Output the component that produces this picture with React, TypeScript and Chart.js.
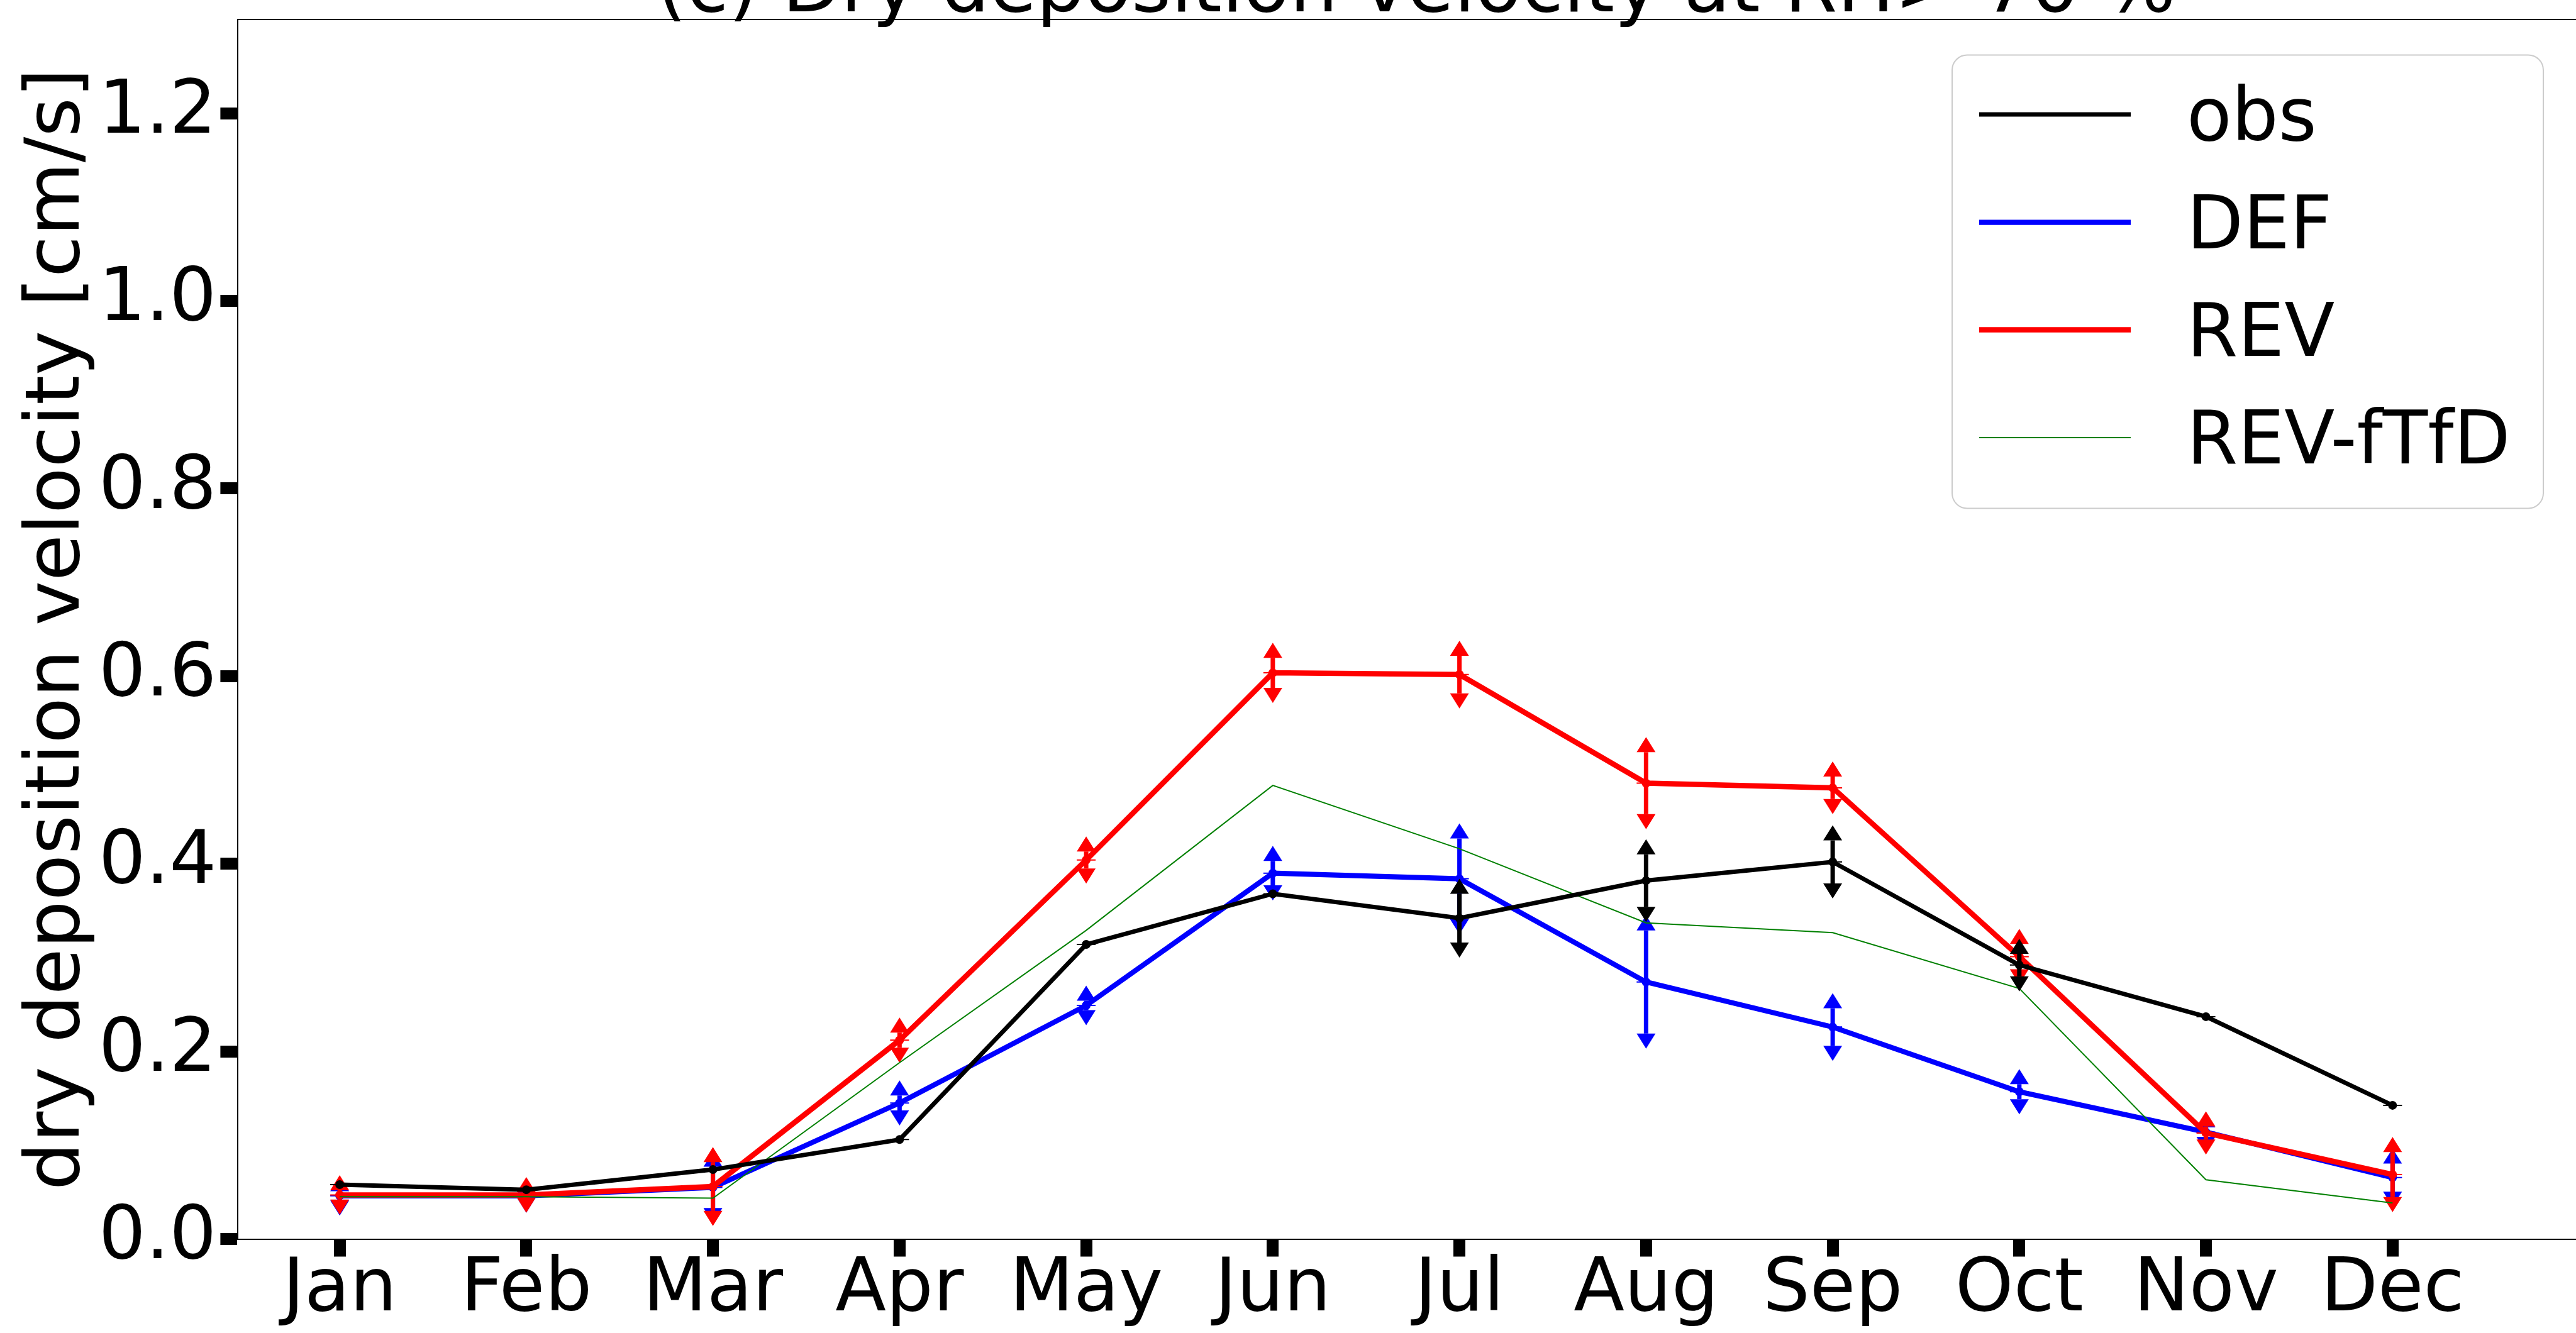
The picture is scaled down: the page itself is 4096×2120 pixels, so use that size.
import React, { useEffect, useRef } from "react";
import { Chart, registerables } from "chart.js";

Chart.register(...registerables);

// ---------------- data ----------------
const months = ["Jan", "Feb", "Mar", "Apr", "May", "Jun", "Jul", "Aug", "Sep", "Oct", "Nov", "Dec"];
const monthNumbers = [1, 2, 3, 4, 5, 6, 7, 8, 9, 10, 11, 12];

const obsValues = [0.058, 0.0525, 0.074, 0.106, 0.314, 0.368, 0.342, 0.382, 0.402, 0.292, 0.237, 0.1425];
const obsErrors = [null, null, null, null, null, null, 0.026, 0.028, 0.023, 0.012, null, null];

const defValues = [0.046, 0.046, 0.055, 0.145, 0.249, 0.39, 0.384, 0.274, 0.226, 0.157, 0.114, 0.0655];
const defErrors = [0.005, 0.002, 0.022, 0.008, 0.005, 0.013, 0.043, 0.055, 0.02, 0.008, 0.005, 0.015];

const revValues = [0.047, 0.047, 0.056, 0.212, 0.404, 0.6035, 0.6017, 0.486, 0.481, 0.301, 0.113, 0.0687];
const revErrors = [0.005, 0.003, 0.026, 0.008, 0.009, 0.016, 0.02, 0.033, 0.012, 0.0135, 0.007, 0.024];

const revfTfDValues = [0.045, 0.045, 0.0436, 0.188, 0.329, 0.4835, 0.416, 0.337, 0.3266, 0.267, 0.0632, 0.0383];

const yTickValues = [0, 0.2, 0.4, 0.6, 0.8, 1.0, 1.2];
const yMin = 0;
const yMax = 1.3;
const xMin = 0.455;
const xMax = 13.084;

const titleText = "(c) Dry deposition velocity at RH> 70 %";
const yLabelText = "dry deposition velocity [cm/s]";

// ---------------- layout / style ----------------
const W = 4140;
const H = 2120;
const PLOT_LEFT = 378.4;
const PLOT_TOP = 31;
const PLOT_BOTTOM = 1970.5;
const PLOT_RIGHT = 4126;
const FONT_FAMILY = '"DejaVu Sans"';
const TITLE_SIZE = 121;
const YLABEL_SIZE = 120;
const TICK_SIZE = 118;
const LEGEND_SIZE = 117;

const CARET_W = 30;
const CARET_H = 24;
const BAR_W = 7;
const CAP_LW = 2;

const pts = (vals: number[]) => vals.map((v, i) => ({ x: monthNumbers[i], y: v }));

const errorBarPlugin = {
  id: "errorBars",
  afterDatasetDraw(chart: any, args: any) {
    const ds = chart.data.datasets[args.index];
    if (!ds.showCaps) return;
    const errs = ds.errors as (number | null)[];
    const xs = chart.scales.x;
    const ys = chart.scales.y;
    const ctx = chart.ctx as CanvasRenderingContext2D;
    const a = chart.chartArea;
    ctx.save();
    ctx.beginPath();
    ctx.rect(a.left, a.top, a.right - a.left, a.bottom - a.top);
    ctx.clip();
    ctx.strokeStyle = ds.borderColor;
    ctx.fillStyle = ds.borderColor;
    ds.data.forEach((p: any, i: number) => {
      const px = xs.getPixelForValue(p.x);
      const py = ys.getPixelForValue(p.y);
      const e = errs ? errs[i] : null;
      if (e != null) {
        const top = ys.getPixelForValue(p.y + e);
        const bot = ys.getPixelForValue(p.y - e);
        ctx.lineWidth = BAR_W;
        ctx.lineCap = "butt";
        ctx.beginPath();
        ctx.moveTo(px, top);
        ctx.lineTo(px, bot);
        ctx.stroke();
        ctx.beginPath();
        ctx.moveTo(px - CARET_W / 2, top);
        ctx.lineTo(px + CARET_W / 2, top);
        ctx.lineTo(px, top - CARET_H);
        ctx.closePath();
        ctx.fill();
        ctx.beginPath();
        ctx.moveTo(px - CARET_W / 2, bot);
        ctx.lineTo(px + CARET_W / 2, bot);
        ctx.lineTo(px, bot + CARET_H);
        ctx.closePath();
        ctx.fill();
      }
      ctx.lineWidth = CAP_LW;
      ctx.beginPath();
      ctx.moveTo(px - CARET_W / 2, py);
      ctx.lineTo(px + CARET_W / 2, py);
      ctx.stroke();
    });
    ctx.restore();
  },
};

const framePlugin = {
  id: "frameAndTexts",
  afterDraw(chart: any) {
    const ctx = chart.ctx as CanvasRenderingContext2D;
    const a = chart.chartArea;
    ctx.save();
    // top spine
    ctx.strokeStyle = "#000";
    ctx.lineWidth = 2;
    ctx.beginPath();
    ctx.moveTo(a.left, a.top);
    ctx.lineTo(a.right, a.top);
    ctx.stroke();
    // title
    ctx.fillStyle = "#000";
    ctx.font = `${TITLE_SIZE}px ${FONT_FAMILY}`;
    ctx.textAlign = "center";
    ctx.textBaseline = "alphabetic";
    ctx.fillText(titleText, 2252, 18.4);
    // y label
    ctx.font = `${YLABEL_SIZE}px ${FONT_FAMILY}`;
    ctx.save();
    ctx.translate(125, (a.top + a.bottom) / 2);
    ctx.rotate(-Math.PI / 2);
    ctx.fillText(yLabelText, 0, 0);
    ctx.restore();
    ctx.restore();
  },
};

const legendPlugin = {
  id: "boxLegend",
  afterDraw(chart: any) {
    const ctx = chart.ctx as CanvasRenderingContext2D;
    const bx = 3104;
    const by = 87.5;
    const bw = 940;
    const bh = 721;
    const r = 24;
    ctx.save();
    ctx.beginPath();
    ctx.moveTo(bx + r, by);
    ctx.lineTo(bx + bw - r, by);
    ctx.arcTo(bx + bw, by, bx + bw, by + r, r);
    ctx.lineTo(bx + bw, by + bh - r);
    ctx.arcTo(bx + bw, by + bh, bx + bw - r, by + bh, r);
    ctx.lineTo(bx + r, by + bh);
    ctx.arcTo(bx, by + bh, bx, by + bh - r, r);
    ctx.lineTo(bx, by + r);
    ctx.arcTo(bx, by, bx + r, by, r);
    ctx.closePath();
    ctx.fillStyle = "rgba(255,255,255,0.8)";
    ctx.fill();
    ctx.strokeStyle = "#cccccc";
    ctx.lineWidth = 2;
    ctx.stroke();
    const rowY = [182.1, 353.7, 524.6, 696.1];
    chart.data.datasets.forEach((ds: any, i: number) => {
      const y = rowY[i];
      ctx.strokeStyle = ds.borderColor;
      ctx.lineWidth = ds.borderWidth;
      ctx.lineCap = "butt";
      ctx.beginPath();
      ctx.moveTo(3147, y);
      ctx.lineTo(3388, y);
      ctx.stroke();
      ctx.fillStyle = "#000";
      ctx.font = `${LEGEND_SIZE}px ${FONT_FAMILY}`;
      ctx.textAlign = "left";
      ctx.textBaseline = "alphabetic";
      ctx.fillText(ds.label, 3477, y + 41);
    });
    ctx.restore();
  },
};

const tickFont = { family: "DejaVu Sans", size: TICK_SIZE, lineHeight: 1 };
const gridOpts = {
  drawOnChartArea: false,
  drawTicks: true,
  tickLength: 28,
  tickWidth: 19,
  tickColor: "#000",
  color: "#000",
};
const borderOpts = { display: true, color: "#000", width: 2 };

export default function App() {
  const ref = useRef<HTMLCanvasElement>(null);
  useEffect(() => {
    document.body.style.margin = "0";
    const config: any = {
      type: "line",
      data: {
        datasets: [
          {
            label: "obs",
            data: pts(obsValues),
            errors: obsErrors,
            showCaps: true,
            borderColor: "#000000",
            backgroundColor: "#000000",
            pointBackgroundColor: "#000000",
            borderWidth: 7,
            pointRadius: 7,
            pointBorderWidth: 0,
            order: 0,
          },
          {
            label: "DEF",
            data: pts(defValues),
            errors: defErrors,
            showCaps: true,
            borderColor: "#0000ff",
            backgroundColor: "#0000ff",
            pointBackgroundColor: "#0000ff",
            borderWidth: 8.2,
            pointRadius: 7,
            pointBorderWidth: 0,
            order: 3,
          },
          {
            label: "REV",
            data: pts(revValues),
            errors: revErrors,
            showCaps: true,
            borderColor: "#ff0000",
            backgroundColor: "#ff0000",
            pointBackgroundColor: "#ff0000",
            borderWidth: 8.5,
            pointRadius: 7,
            pointBorderWidth: 0,
            order: 2,
          },
          {
            label: "REV-fTfD",
            data: pts(revfTfDValues),
            showCaps: false,
            borderColor: "#008000",
            backgroundColor: "#008000",
            borderWidth: 2,
            pointRadius: 0,
            order: 1,
          },
        ],
      },
      options: {
        animation: false,
        responsive: false,
        maintainAspectRatio: false,
        devicePixelRatio: 1,
        layout: { padding: { left: 0, top: PLOT_TOP, right: W - PLOT_RIGHT, bottom: 0 } },
        elements: { line: { tension: 0, fill: false } },
        plugins: {
          legend: { display: false },
          title: { display: false },
          tooltip: { enabled: false },
        },
        scales: {
          x: {
            type: "linear",
            min: xMin,
            max: xMax,
            afterBuildTicks: (s: any) => {
              s.ticks = monthNumbers.map((v) => ({ value: v }));
            },
            afterFit: (s: any) => {
              s.height = H - PLOT_BOTTOM;
              s.paddingLeft = 0;
              s.paddingRight = 0;
            },
            ticks: {
              autoSkip: false,
              maxRotation: 0,
              minRotation: 0,
              padding: -4,
              color: "#000",
              font: tickFont,
              callback: (v: any) => {
                const idx = monthNumbers.indexOf(Number(v));
                return idx >= 0 ? months[idx] : "";
              },
            },
            grid: gridOpts,
            border: borderOpts,
          },
          y: {
            type: "linear",
            min: yMin,
            max: yMax,
            afterBuildTicks: (s: any) => {
              s.ticks = yTickValues.map((v) => ({ value: v }));
            },
            afterFit: (s: any) => {
              s.width = PLOT_LEFT;
              s.paddingTop = 0;
              s.paddingBottom = 0;
            },
            ticks: {
              padding: 6,
              color: "#000",
              font: tickFont,
              callback: (v: any) => Number(v).toFixed(1),
            },
            grid: gridOpts,
            border: borderOpts,
          },
        },
      },
      plugins: [errorBarPlugin, framePlugin, legendPlugin],
    };
    const chart = new Chart(ref.current as HTMLCanvasElement, config);
    return () => chart.destroy();
  }, []);

  return (
    <div
      style={{
        position: "fixed",
        left: 0,
        top: 0,
        width: 4096,
        height: 2120,
        overflow: "hidden",
        background: "#ffffff",
      }}
    >
      <canvas ref={ref} width={W} height={H} style={{ display: "block", width: W, height: H }} />
    </div>
  );
}
